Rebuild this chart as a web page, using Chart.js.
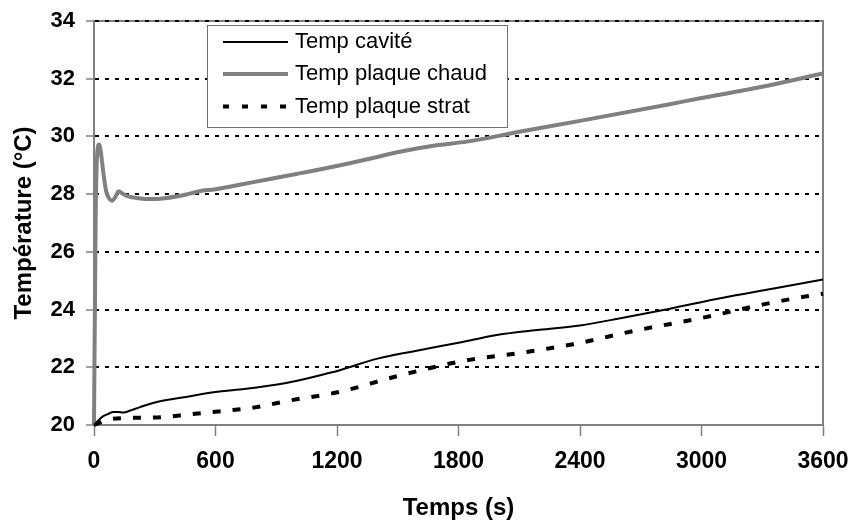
<!DOCTYPE html>
<html>
<head>
<meta charset="utf-8">
<script src="https://cdn.jsdelivr.net/npm/chart.js@4.4.1/dist/chart.umd.min.js"></script>
<style>
html,body{margin:0;padding:0;background:#fff;}
#wrap{width:852px;height:520px;}
</style>
</head>
<body>
<div id="wrap"><canvas id="c" width="852" height="520"></canvas></div>
<script>
// ---- data ----
const seriesLabels = ['Temp cavité', 'Temp plaque chaud', 'Temp plaque strat'];
const xTicks = [0, 600, 1200, 1800, 2400, 3000, 3600];
const yTicks = [20, 22, 24, 26, 28, 30, 32, 34];

const timeChaud = [0, 8, 15, 25, 35, 45, 60, 75, 90, 105, 122, 140, 170, 220, 280, 350, 450, 520, 600, 700, 850, 1000, 1180, 1350, 1510, 1700, 1840, 2000, 2100, 2400, 2830, 3000, 3300, 3600];
const tempChaud = [20, 27.0, 29.3, 29.72, 29.4, 28.8, 28.1, 27.85, 27.77, 27.9, 28.1, 28.02, 27.92, 27.86, 27.83, 27.86, 27.98, 28.1, 28.17, 28.3, 28.5, 28.7, 28.95, 29.21, 29.47, 29.7, 29.82, 30.02, 30.16, 30.54, 31.1, 31.33, 31.72, 32.18];

const timeCavite = [0, 20, 46, 70, 95, 120, 145, 180, 227, 310, 474, 600, 803, 967, 1165, 1214, 1400, 1575, 1800, 1989, 2200, 2400, 2600, 2844, 3100, 3350, 3600];
const tempCavite = [20, 20.15, 20.31, 20.38, 20.45, 20.45, 20.43, 20.5, 20.62, 20.8, 21.0, 21.14, 21.3, 21.48, 21.81, 21.9, 22.3, 22.55, 22.85, 23.12, 23.3, 23.45, 23.7, 24.03, 24.4, 24.72, 25.04];

const timeStrat = [0, 30, 79, 145, 310, 474, 600, 803, 967, 1214, 1495, 1823, 2087, 2366, 2680, 3008, 3305, 3520, 3600];
const tempStrat = [20, 20.08, 20.2, 20.24, 20.26, 20.37, 20.46, 20.62, 20.85, 21.15, 21.69, 22.22, 22.48, 22.8, 23.28, 23.72, 24.18, 24.46, 24.55];

const toPts = (xs, ys) => xs.map((x, i) => ({x: x, y: ys[i]}));

const FONT = "'Liberation Sans', Arial, sans-serif";

const framePlugin = {
  id: 'frame',
  beforeDraw(chart) {
    const {ctx, chartArea: a} = chart;
    ctx.save();
    ctx.strokeStyle = '#808080';
    ctx.lineWidth = 2;
    ctx.beginPath();
    ctx.moveTo(a.left, a.top);
    ctx.lineTo(a.right, a.top);
    ctx.lineTo(a.right, a.bottom);
    ctx.stroke();
    ctx.restore();
  }
};

const boxLegend = {
  id: 'boxLegend',
  afterDraw(chart) {
    const ctx = chart.ctx;
    const bx = 207, by = 25, bw = 300, bh = 102;
    ctx.save();
    ctx.fillStyle = '#fff';
    ctx.fillRect(bx, by, bw, bh);
    ctx.strokeStyle = '#707070';
    ctx.lineWidth = 1;
    ctx.strokeRect(bx + 0.5, by + 0.5, bw, bh);
    const rows = [42, 74, 106.5];
    const legendDash = [[], [], [6, 13]];
    chart.data.datasets.forEach((ds, i) => {
      const y = rows[i];
      ctx.strokeStyle = ds.borderColor;
      ctx.lineWidth = ds.borderWidth;
      ctx.setLineDash(legendDash[i]);
      ctx.lineCap = 'butt';
      ctx.beginPath();
      ctx.moveTo(223, y);
      ctx.lineTo(288, y);
      ctx.stroke();
      ctx.setLineDash([]);
      ctx.fillStyle = '#000';
      ctx.font = '22px ' + FONT;
      ctx.textBaseline = 'middle';
      ctx.textAlign = 'left';
      ctx.fillText(ds.label, 295, y);
    });
    ctx.restore();
  }
};

new Chart(document.getElementById('c'), {
  type: 'line',
  data: {
    datasets: [
      {label: seriesLabels[0], data: toPts(timeCavite, tempCavite), borderColor: '#000000', borderWidth: 2, pointRadius: 0, cubicInterpolationMode: 'monotone', fill: false, clip: 6},
      {label: seriesLabels[1], data: toPts(timeChaud, tempChaud), borderColor: '#808080', borderWidth: 4, pointRadius: 0, cubicInterpolationMode: 'monotone', fill: false, clip: 6},
      {label: seriesLabels[2], data: toPts(timeStrat, tempStrat), borderColor: '#000000', borderWidth: 4, borderDash: [8, 12], pointRadius: 0, cubicInterpolationMode: 'monotone', fill: false, clip: 6}
    ]
  },
  options: {
    responsive: false,
    animation: false,
    events: [],
    layout: {padding: {left: 0, right: 29, top: 21, bottom: 0}},
    plugins: {legend: {display: false}, tooltip: {enabled: false}},
    scales: {
      x: {
        type: 'linear', min: 0, max: 3600,
        afterBuildTicks: s => { s.ticks = xTicks.map(v => ({value: v})); },
        afterFit: s => { s.height = 95; s.paddingLeft = 0; s.paddingRight = 0; },
        ticks: {color: '#000', font: {family: FONT, size: 23, weight: 'bold'}, padding: 12, maxRotation: 0, autoSkip: false, callback: v => String(v)},
        grid: {drawOnChartArea: false, drawTicks: true, tickLength: 11, color: '#808080', tickColor: '#808080', tickWidth: 1.5},
        border: {color: '#808080', width: 2},
        title: {display: true, text: 'Temps (s)', color: '#000', font: {family: FONT, size: 24, weight: 'bold'}, padding: {top: 0, bottom: -3}}
      },
      y: {
        min: 20, max: 34,
        afterBuildTicks: s => { s.ticks = yTicks.map(v => ({value: v})); },
        afterFit: s => { s.width = 94; s.paddingTop = 0; s.paddingBottom = 0; },
        ticks: {color: '#000', font: {family: FONT, size: 22, weight: 'bold'}, padding: 11, callback: v => String(v)},
        grid: {
          color: c => (c.tick && c.tick.value === 20) ? 'rgba(0,0,0,0)' : '#000',
          lineWidth: 2, tickLength: 8, tickColor: '#808080', tickWidth: 1.5, tickBorderDash: []
        },
        border: {color: '#808080', width: 2, dash: [4, 6]},
        title: {display: true, text: 'Température (°C)', color: '#000', font: {family: FONT, size: 24, weight: 'bold'}, padding: {top: 10, bottom: 0}}
      }
    }
  },
  plugins: [framePlugin, boxLegend]
});
</script>
</body>
</html>
